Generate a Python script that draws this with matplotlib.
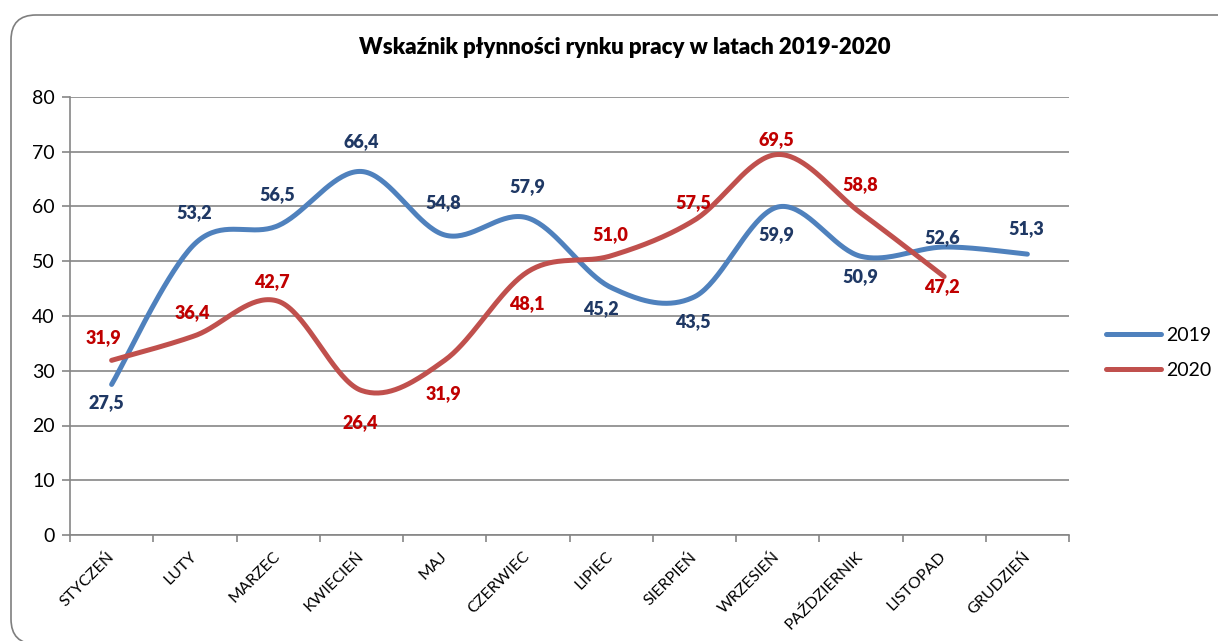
import numpy as np
import matplotlib
matplotlib.use("Agg")
import matplotlib.pyplot as plt
from matplotlib.patches import FancyBboxPatch
from matplotlib.lines import Line2D

months = ["STYCZEŃ", "LUTY", "MARZEC", "KWIECIEŃ", "MAJ", "CZERWIEC", "LIPIEC",
          "SIERPIEŃ", "WRZESIEŃ", "PAŹDZIERNIK", "LISTOPAD", "GRUDZIEŃ"]
values_2019 = [27.5, 53.2, 56.5, 66.4, 54.8, 57.9, 45.2, 43.5, 59.9, 50.9, 52.6, 51.3]
values_2020 = [31.9, 36.4, 42.7, 26.4, 31.9, 48.1, 51.0, 57.5, 69.5, 58.8, 47.2]
series_names = ["2019", "2020"]
y_ticks = [0, 10, 20, 30, 40, 50, 60, 70, 80]
title = "Wskaźnik płynności rynku pracy w latach 2019-2020"

# label offsets (pixels) from each point
offsets_2019 = [(-5, -18), (-1, 31), (-1, 31), (0, 30), (-1, 32), (-1, 31),
                (-10, -21), (-2, -25), (-1, -28), (-1, -20), (-2, 9), (-1, 26)]
offsets_2020 = [(-8, 23), (-3, 23), (-6, 20), (-1, -32), (-1, -33), (-1, -32),
                (-1, 21), (-1, 18), (-1, 15), (-1, 28), (-2, -10)]

line_colors = ["#4F81BD", "#C0504D"]
label_colors = ["#1F3864", "#C00000"]
grid_color = "#868686"

plt.rcParams['font.family'] = ['Lato', 'DejaVu Sans']


def fmt(v):
    return ("%.1f" % v).replace(".", ",")


def smooth(xs, ys, n=40):
    # bezier smoothing like excel's "smoothed line"
    p = np.column_stack([xs, ys]).astype(float)
    out = []
    for i in range(len(p) - 1):
        p0 = p[i - 1] if i > 0 else p[i]
        p1 = p[i]
        p2 = p[i + 1]
        p3 = p[i + 2] if i + 2 < len(p) else p[i + 1]
        c1 = p1 + (p2 - p0) / 6
        c2 = p2 - (p3 - p1) / 6
        t = np.linspace(0, 1, n)[:, None]
        seg = (1 - t) ** 3 * p1 + 3 * (1 - t) ** 2 * t * c1 + 3 * (1 - t) * t ** 2 * c2 + t ** 3 * p2
        out.append(seg if i == 0 else seg[1:])
    out = np.vstack(out)
    return out[:, 0], out[:, 1]


W, H = 1218, 641
fig = plt.figure(figsize=(W / 100, H / 100), dpi=100)
ax = fig.add_axes([70 / W, 1 - 535 / H, 999 / W, 438 / H])

# rounded outer frame
frame = FancyBboxPatch((0.11, -0.03), 12.6, 6.29, boxstyle="round,pad=0,rounding_size=0.25",
                       transform=fig.dpi_scale_trans, fill=False, edgecolor="#7F7F7F",
                       linewidth=1.2, zorder=0)
fig.patches.append(frame)

all_values = [values_2019, values_2020]
all_offsets = [offsets_2019, offsets_2020]
for k in range(2):
    vals = all_values[k]
    xs = np.arange(len(vals)) + 0.5
    sx, sy = smooth(xs, vals)
    ax.plot(sx, sy, color=line_colors[k], linewidth=3.6, solid_capstyle='round', zorder=3)
    for i in range(len(vals)):
        ax.annotate(fmt(vals[i]), (xs[i], vals[i]), xytext=all_offsets[k][i],
                    textcoords='offset pixels', ha='center', va='center',
                    fontsize=13, fontweight='heavy', color=label_colors[k], zorder=4)

ax.set_xlim(0, len(months))
ax.set_ylim(0, 80)
ax.set_yticks(y_ticks)
ax.set_xticks(np.arange(len(months) + 1))
ax.set_xticklabels([])
ax.set_xticks(np.arange(len(months)) + 0.5, minor=True)
ax.set_xticklabels(months, minor=True, rotation=45, ha='right', va='center',
                   rotation_mode='anchor', fontsize=11.5)
ax.tick_params(axis='x', which='minor', length=0, pad=14)
ax.tick_params(axis='x', which='major', length=5, width=1.2, color=grid_color, direction='out')
ax.tick_params(axis='y', length=6, width=1.2, color=grid_color, labelsize=14, pad=5)

ax.grid(axis='y', color=grid_color, linewidth=1.2)
ax.set_axisbelow(True)
for s in ["top", "right"]:
    ax.spines[s].set_visible(False)
for s in ["left", "bottom"]:
    ax.spines[s].set_color(grid_color)
    ax.spines[s].set_linewidth(1.2)

fig.text(625 / W, 1 - 48 / H, title, ha='center', va='center', fontsize=16, fontweight='heavy')

handles = [Line2D([], [], color=c, linewidth=3.6, solid_capstyle='round') for c in line_colors]
fig.legend(handles, series_names, loc='upper left', bbox_to_anchor=(1106 / W, 1 - 327 / H),
           frameon=False, fontsize=14, handlelength=2.85, handletextpad=0.26,
           labelspacing=0.9, borderpad=0, borderaxespad=0)

fig.savefig("out.png", dpi=100)
